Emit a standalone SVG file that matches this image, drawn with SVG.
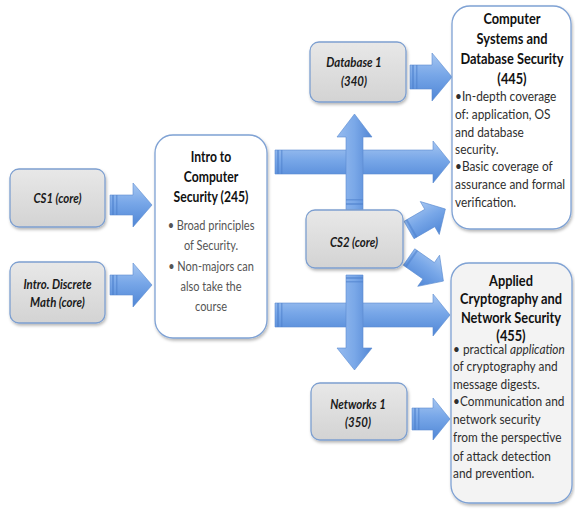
<svg xmlns="http://www.w3.org/2000/svg" width="575" height="510" viewBox="0 0 575 510">
<defs>
<style>
.title{font-family:Lato,"Liberation Sans",sans-serif;font-weight:700;font-size:16px;fill:#111;text-anchor:middle}
.lbl{font-family:Lato,"Liberation Sans",sans-serif;font-weight:700;font-style:italic;font-size:13px;fill:#1a1a1a;text-anchor:middle}
.bul{font-family:Lato,"Liberation Sans",sans-serif;font-size:12.5px;fill:#2e2e2e}
.bulc{font-family:Lato,"Liberation Sans",sans-serif;font-size:12.5px;fill:#555;text-anchor:middle}
.gbox{fill:url(#gGray);stroke:#7d9fd0;stroke-width:1.3;filter:url(#sh)}
.wbox{fill:#fff;stroke:#7fa2d4;stroke-width:1.3;filter:url(#sh)}
.lbox{fill:#f3f3f3;stroke:#7fa2d4;stroke-width:1.3;filter:url(#sh)}
.ah{fill:url(#gH);stroke:#5b8bd0;stroke-width:0.6}
.av{fill:url(#gV);stroke:#5b8bd0;stroke-width:0.6}
.st{fill:#4d7fcc;opacity:0.55}
</style>
<linearGradient id="gGray" x1="0" y1="0" x2="0" y2="1"><stop offset="0" stop-color="#e8e8e8"/><stop offset="1" stop-color="#d3d3d3"/></linearGradient>
<linearGradient id="gH" x1="0" y1="0" x2="0" y2="1"><stop offset="0" stop-color="#a6c6f1"/><stop offset="0.45" stop-color="#78a7e8"/><stop offset="1" stop-color="#4f86d6"/></linearGradient>
<linearGradient id="gV" x1="0" y1="0" x2="1" y2="0"><stop offset="0" stop-color="#96bbef"/><stop offset="0.5" stop-color="#7aa8e8"/><stop offset="1" stop-color="#5387d5"/></linearGradient>
<filter id="sh" x="-10%" y="-10%" width="125%" height="125%"><feDropShadow dx="1" dy="2" stdDeviation="1.5" flood-color="#000" flood-opacity="0.28"/></filter>
</defs>
<rect width="575" height="510" fill="#fff"/>

<g id="connectors">
  <!-- CS1 -> Intro -->
  <path class="ah" d="M110,195 L133,195 L133,183 L152,205 L133,227 L133,215 L110,215 Z"/>
  <rect class="st" x="112" y="195" width="2" height="20"/><rect class="st" x="116" y="195" width="1.5" height="20"/>
  <!-- Discrete -> Intro -->
  <path class="ah" d="M110,275 L133,275 L133,263 L152,285 L133,307 L133,295 L110,295 Z"/>
  <rect class="st" x="112" y="275" width="2" height="20"/><rect class="st" x="116" y="275" width="1.5" height="20"/>
  <!-- Intro -> 445 -->
  <path class="ah" d="M275,150 L433,150 L433,141 L450,162 L433,183 L433,174 L275,174 Z"/>
  <rect class="st" x="277" y="150" width="2" height="24"/><rect class="st" x="281" y="150" width="1.5" height="24"/>
  <!-- Intro -> 455 -->
  <path class="ah" d="M275,303 L433,303 L433,294 L450,315 L433,336 L433,327 L275,327 Z"/>
  <rect class="st" x="277" y="303" width="2" height="24"/><rect class="st" x="281" y="303" width="1.5" height="24"/>
  <!-- CS2 -> Database 1 -->
  <path class="av" d="M346,210 L346,137 L337,137 L354.5,114 L372,137 L363,137 L363,210 Z"/>
  <rect class="st" x="346" y="203" width="17" height="2"/><rect class="st" x="346" y="199" width="17" height="1.5"/>
  <!-- CS2 -> Networks 1 -->
  <path class="av" d="M346,275 L346,348 L337,348 L354.5,370 L372,348 L363,348 L363,275 Z"/>
  <rect class="st" x="346" y="277" width="17" height="2"/><rect class="st" x="346" y="281" width="17" height="1.5"/>
  <!-- Database 1 -> 445 -->
  <path class="ah" d="M410,65 L432,65 L432,53 L452,77 L432,101 L432,89 L410,89 Z"/>
  <rect class="st" x="412" y="65" width="2" height="24"/><rect class="st" x="416" y="65" width="1.5" height="24"/>
  <!-- Networks 1 -> 455 -->
  <path class="ah" d="M412,408 L433,408 L433,398 L450,419 L433,440 L433,430 L412,430 Z"/>
  <rect class="st" x="414" y="408" width="2" height="22"/><rect class="st" x="418" y="408" width="1.5" height="22"/>
  <!-- CS2 -> 445 -->
  <g transform="translate(409 230) rotate(-30)">
    <path class="ah" d="M0,-10 L24,-10 L24,-19 L42,0 L24,19 L24,10 L0,10 Z"/>
    <rect class="st" x="2" y="-10" width="2" height="20"/>
  </g>
  <!-- CS2 -> 455 -->
  <g transform="translate(409 257) rotate(35)">
    <path class="ah" d="M0,-10 L24,-10 L24,-19 L42,0 L24,19 L24,10 L0,10 Z"/>
    <rect class="st" x="2" y="-10" width="2" height="20"/>
  </g>
</g>

<g id="cs1">
  <rect class="gbox" x="10" y="169" width="95" height="58" rx="9"/>
  <text class="lbl" transform="translate(57.5 0) scale(0.88 1)"><tspan x="0" y="203.5">CS1 (core)</tspan></text>
</g>

<g id="discrete">
  <rect class="gbox" x="10" y="262" width="95" height="61" rx="9"/>
  <text class="lbl" transform="translate(57.5 0) scale(0.88 1)"><tspan x="0" y="289.5">Intro. Discrete</tspan><tspan x="0" y="307.5">Math (core)</tspan></text>
</g>

<g id="intro245">
  <rect class="wbox" x="155" y="135" width="112" height="203" rx="18"/>
  <text class="title" transform="translate(211 0) scale(0.76 1)"><tspan x="0" y="162">Intro to</tspan><tspan x="0" y="182">Computer</tspan><tspan x="0" y="202">Security (245)</tspan></text>
  <text class="bulc" transform="translate(211 0) scale(0.88 1)"><tspan x="0" y="230">• Broad principles</tspan><tspan x="0" y="250">of Security.</tspan><tspan x="0" y="271">• Non-majors can</tspan><tspan x="0" y="291">also take the</tspan><tspan x="0" y="311">course</tspan></text>
</g>

<g id="db340">
  <rect class="gbox" x="310" y="42" width="96" height="60" rx="9"/>
  <text class="lbl" transform="translate(354 0) scale(0.88 1)"><tspan x="0" y="67.5">Database 1</tspan><tspan x="0" y="86.5">(340)</tspan></text>
</g>

<g id="cs2">
  <rect class="gbox" x="306" y="210" width="97" height="58" rx="9"/>
  <text class="lbl" transform="translate(354 0) scale(0.88 1)"><tspan x="0" y="247.5">CS2 (core)</tspan></text>
</g>

<g id="net350">
  <rect class="gbox" x="311" y="383" width="96" height="57" rx="9"/>
  <text class="lbl" transform="translate(358 0) scale(0.88 1)"><tspan x="0" y="409.5">Networks 1</tspan><tspan x="0" y="427.5">(350)</tspan></text>
</g>

<g id="c445">
  <rect class="wbox" x="452" y="6" width="119" height="223" rx="18"/>
  <text class="title" transform="translate(512 0) scale(0.8 1)"><tspan x="0" y="24">Computer</tspan><tspan x="0" y="44">Systems and</tspan><tspan x="0" y="64">Database Security</tspan><tspan x="0" y="84">(445)</tspan></text>
  <text class="bul" transform="translate(455 0) scale(0.95 1)"><tspan x="0" y="101">•In-depth coverage</tspan><tspan x="0" y="119">of: application, OS</tspan><tspan x="0" y="137">and database</tspan><tspan x="0" y="154">security.</tspan><tspan x="0" y="171">•Basic coverage of</tspan><tspan x="0" y="189">assurance and formal</tspan><tspan x="0" y="207">verification.</tspan></text>
</g>

<g id="c455">
  <rect class="lbox" x="451" y="263" width="121" height="240" rx="18"/>
  <text class="title" transform="translate(511 0) scale(0.8 1)"><tspan x="0" y="286">Applied</tspan><tspan x="0" y="304">Cryptography and</tspan><tspan x="0" y="323">Network Security</tspan><tspan x="0" y="341">(455)</tspan></text>
  <text class="bul" transform="translate(453 0) scale(0.95 1)"><tspan x="0" y="354">• practical <tspan font-style="italic">application</tspan></tspan><tspan x="0" y="371">of cryptography and</tspan><tspan x="0" y="389">message digests.</tspan><tspan x="0" y="406">•Communication and</tspan><tspan x="0" y="424">network security</tspan><tspan x="0" y="442">from the perspective</tspan><tspan x="0" y="461">of attack detection</tspan><tspan x="0" y="478">and prevention.</tspan></text>
</g>
</svg>
